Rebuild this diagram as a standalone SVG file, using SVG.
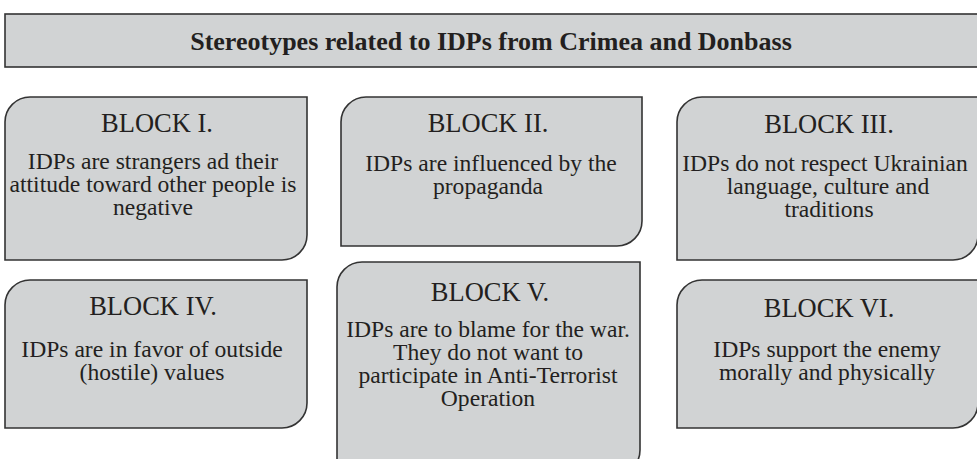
<svg xmlns="http://www.w3.org/2000/svg" width="977" height="459" viewBox="0 0 977 459">
<style>
.box{fill:#d1d3d4;stroke:#333;stroke-width:1.6}
.t{font-family:"Liberation Serif","Times New Roman",serif;fill:#231f20;text-anchor:middle}
.h{font-size:26.5px}
.b{font-size:23.6px}
.title{font-size:26px;font-weight:bold}
</style>
<g id="title">
<rect class="box" x="5" y="14" width="980" height="53"/>
<text class="t title" x="491" y="50">Stereotypes related to IDPs from Crimea and Donbass</text>
</g>
<g id="block1">
<path class="box" d="M5,122 A25,25 0 0 1 30,97 H307 V235 A25,25 0 0 1 282,260 H5 Z"/>
<text class="t h" x="157" y="132">BLOCK I.</text>
<text class="t b" x="153" y="169"><tspan x="153">IDPs are strangers ad their</tspan><tspan x="153" dy="23">attitude toward other people is</tspan><tspan x="153" dy="23">negative</tspan></text>
</g>
<g id="block2">
<path class="box" d="M341,122 A25,25 0 0 1 366,97 H642 V221 A25,25 0 0 1 617,246 H341 Z"/>
<text class="t h" x="488" y="132">BLOCK II.</text>
<text class="t b" x="491" y="171"><tspan x="491">IDPs are influenced by the</tspan><tspan x="488" dy="23">propaganda</tspan></text>
</g>
<g id="block3">
<path class="box" d="M677,122 A25,25 0 0 1 702,97 H978 V235 A25,25 0 0 1 953,260 H677 Z"/>
<text class="t h" x="829" y="133">BLOCK III.</text>
<text class="t b" x="825" y="171"><tspan x="825">IDPs do not respect Ukrainian</tspan><tspan x="828" dy="23">language, culture and</tspan><tspan x="829" dy="23">traditions</tspan></text>
</g>
<g id="block4">
<path class="box" d="M5,305 A25,25 0 0 1 30,280 H307 V403 A25,25 0 0 1 282,428 H5 Z"/>
<text class="t h" x="153" y="315">BLOCK IV.</text>
<text class="t b" x="152" y="357"><tspan x="152">IDPs are in favor of outside</tspan><tspan x="152" dy="23">(hostile) values</tspan></text>
</g>
<g id="block5">
<path class="box" d="M337,287 A25,25 0 0 1 362,262 H640 V450 A25,25 0 0 1 615,475 H337 Z"/>
<text class="t h" x="490" y="301">BLOCK V.</text>
<text class="t b" x="488" y="337"><tspan x="488">IDPs are to blame for the war.</tspan><tspan x="488" dy="23">They do not want to</tspan><tspan x="488" dy="23">participate in Anti-Terrorist</tspan><tspan x="488" dy="23">Operation</tspan></text>
</g>
<g id="block6">
<path class="box" d="M677,305 A25,25 0 0 1 702,280 H978 V403 A25,25 0 0 1 953,428 H677 Z"/>
<text class="t h" x="829" y="317">BLOCK VI.</text>
<text class="t b" x="827" y="357"><tspan x="827">IDPs support the enemy</tspan><tspan x="827" dy="23">morally and physically</tspan></text>
</g>
<g id="connectors"/>
</svg>
